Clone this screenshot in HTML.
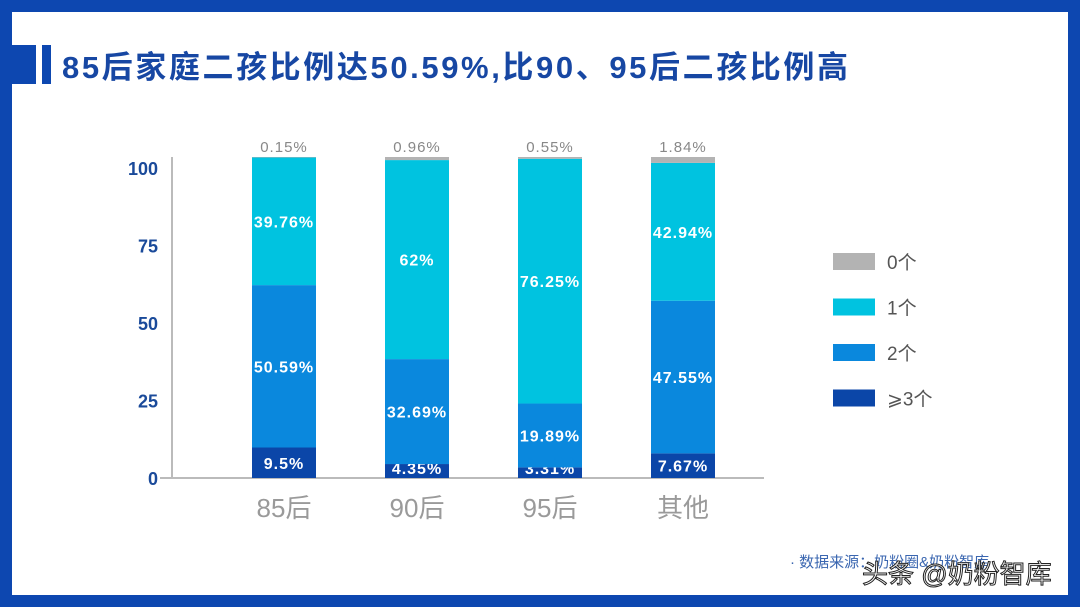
<!DOCTYPE html>
<html><head><meta charset="utf-8"><style>
body{margin:0;width:1080px;height:607px;overflow:hidden;background:#0d47b0;font-family:"Liberation Sans","Noto Sans CJK SC",sans-serif}
#slide{position:absolute;left:12px;top:12px;width:1056px;height:583px;background:#fff}
</style></head><body>
<div id="slide"></div>
<svg width="1080" height="607" style="position:absolute;left:0;top:0" id="chart">
<rect x="12" y="45" width="24" height="39" fill="#0d47b0"/>
<rect x="42" y="45" width="9" height="39" fill="#0d47b0"/>
<text x="62" y="78" font-size="31" font-weight="bold" letter-spacing="2.6" fill="#1747a3" font-family="Liberation Sans,Noto Sans CJK SC,sans-serif">85后家庭二孩比例达50.59%,比90、95后二孩比例高</text>
<g id="plot"></g>
<text x="790" y="567" font-size="15" fill="#3a66b0" font-family="Liberation Sans,Noto Sans CJK SC,sans-serif">· 数据来源：奶粉圈&amp;奶粉智库</text>
<text x="862" y="583" font-size="26" fill="#fff" stroke="#222" stroke-width="1" font-family="Liberation Sans,Noto Sans CJK SC,sans-serif">头条 @奶粉智库</text>
</svg>
<script>
const categories=["85后","90后","95后","其他"];
const s3=[9.5,4.35,3.31,7.67];
const s2=[50.59,32.69,19.89,47.55];
const s1=[39.76,62,76.25,42.94];
const s0=[0.15,0.96,0.55,1.84];
const seriesNames=["0个","1个","2个","⩾3个"];
const yTicks=[0,25,50,75,100];
const NS="http://www.w3.org/2000/svg";
const g=document.getElementById('plot');
const y0=478,k=3.21;
function y(v){return y0-v*k;}
function x(i){return 284+i*133;}
function el(t,a,txt){const e=document.createElementNS(NS,t);for(const n in a)e.setAttribute(n,a[n]);if(txt!=null)e.textContent=txt;g.appendChild(e);return e;}
const F="Liberation Sans,Noto Sans CJK SC,sans-serif";
let ax=el('line',{x1:172,y1:157,x2:172,y2:478,stroke:'#bbb','stroke-width':2});


let bx=el('line',{x1:160,y1:478,x2:764,y2:478,stroke:'#bbb','stroke-width':2});


yTicks.forEach(v=>{
 const t=el('text',{x:158,y:478-v*3.1+7,'text-anchor':'end','font-size':18,'font-weight':'bold',fill:'#1a4a9a','font-family':F},v);
 
 
});
const cols=["#b3b3b3","#00c3e0","#0a88dd","#0b46a8"];
categories.forEach((c,i)=>{
 const segs=[s3[i],s2[i],s1[i],s0[i]];const cc=[cols[3],cols[2],cols[1],cols[0]];
 let acc=0;
 segs.forEach((v,j)=>{
  const r=el('rect',{x:x(i)-32,y:y(acc+v),width:64,height:v*k,fill:cc[j]});
  
  
  let ly;
  if(j==3){ly=y(acc+v)-5;}
  else if(j==0){ly=Math.min(y(acc+v/2)+6,y0-4);}
  else ly=y(acc+v/2)+6;
  const t=el('text',{x:x(i),y:ly,'text-anchor':'middle','font-size':j==3?15:16,'font-weight':j==3?'normal':'bold',fill:j==3?'#888':'#fff','letter-spacing':1,'font-family':F},v+'%');
  
  
  acc+=v;
 });
 const t=el('text',{x:x(i),y:517,'text-anchor':'middle','font-size':26,fill:'#9a9a9a','font-family':F},c);
 
 
});
seriesNames.forEach((n,i)=>{
 const r=el('rect',{x:833,y:253+i*45.5,width:42,height:17,fill:cols[i]});
 
 
 const t=el('text',{x:887,y:269+i*45.5,'font-size':19,fill:'#555','font-family':F},n);
 
 
});
</script>
</body></html>
